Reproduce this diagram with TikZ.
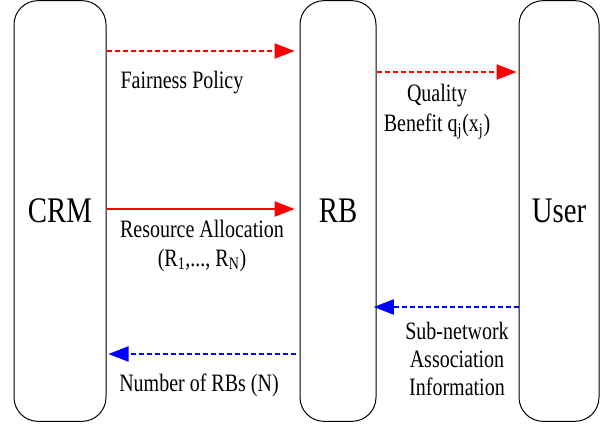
\documentclass[tikz,border=0pt]{standalone}
\usepackage{fontspec}
\setmainfont{Liberation Serif}[FakeStretch=0.8]
\usepackage{tikz}
\usetikzlibrary{arrows.meta}

\begin{document}
\begin{tikzpicture}[x=0.75pt,y=-0.75pt,
	block/.style={draw,line width=0.75pt,rounded corners=18pt,minimum height=315.5pt,font=\fontsize{27}{30}\selectfont,inner sep=0pt},
	lbl/.style={align=center,anchor=base,font=\fontsize{18.75}{21}\selectfont},
	flow/.style={line width=0.8pt,-{Triangle[length=15pt,width=11.5pt]}},
	dashflow/.style={flow,dash pattern=on 3.75pt off 2.25pt}]
\useasboundingbox (0,0) rectangle (605,427);
% the three entities
\node[block,minimum width=69pt] (crm) at (60,211) {CRM};
\node[block,minimum width=57pt] (rb) at (338,211) {RB};
\node[block,minimum width=60pt] (user) at (559,211) {User};
% downlink messages
\begin{scope}[red]
	\draw[dashflow,shorten >=3.75pt] (crm.east |- 0,51) -- (rb.west |- 0,51);
	\draw[dashflow,shorten >=1.5pt] (rb.east |- 0,72) -- (user.west |- 0,72);
	\draw[flow,shorten >=3.75pt] (crm.east |- 0,209) -- (rb.west |- 0,209);
\end{scope}
% uplink messages
\begin{scope}[blue]
	\draw[dashflow,shorten >=-2pt] (user.west |- 0,307) -- (rb.east |- 0,307);
	\draw[dashflow,shorten <=3pt,shorten >=1.5pt] (rb.west |- 0,354) -- (crm.east |- 0,354);
\end{scope}
\node[lbl] (fair) at (182,89) {Fairness Policy};
\node[lbl] (qual) at (437,132) {Quality\\[1.5pt] Benefit q\textsubscript{j}(x\textsubscript{j})};
\node[lbl] (res) at (202,266) {Resource Allocation\\ (R\textsubscript{1},..., R\textsubscript{N})};
\node[lbl] (assoc) at (457,395) {Sub-network\\ Association\\ Information};
\node[lbl] (num) at (199,391) {Number of RBs (N)};
\end{tikzpicture}
\end{document}
